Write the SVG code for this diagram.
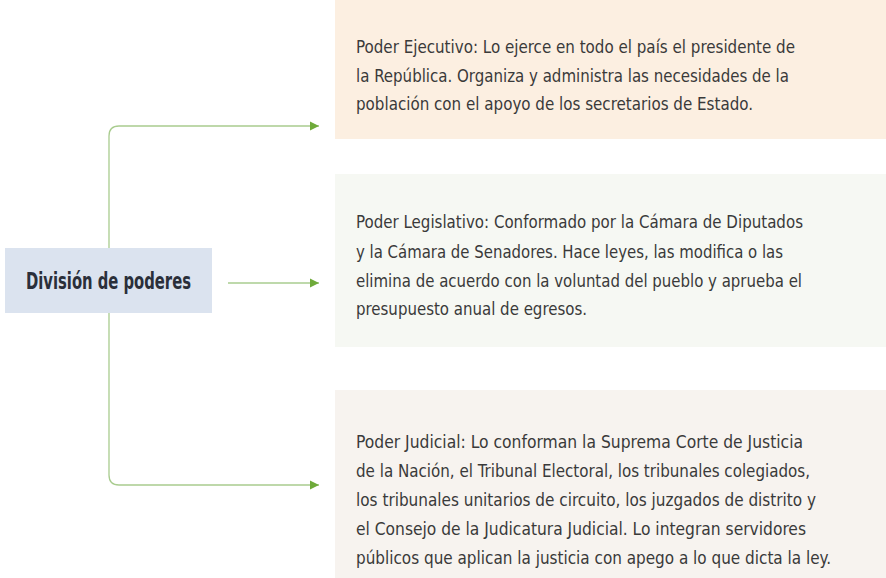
<svg xmlns="http://www.w3.org/2000/svg" width="886" height="578" viewBox="0 0 886 578">
<defs>
<style>
.t{font-family:"DejaVu Sans Condensed","DejaVu Sans","Liberation Sans",sans-serif;font-stretch:condensed;font-size:18.5px;fill:#3a3a3a}
.c{fill:none;stroke:#a9cc8f;stroke-width:1.3}
.n{font-family:"DejaVu Sans Condensed","DejaVu Sans","Liberation Sans",sans-serif;font-stretch:condensed;font-weight:bold;font-size:23px;fill:#2a2f3a}
</style>
<marker id="ah" viewBox="0 0 10 10" refX="10" refY="5" markerWidth="9" markerHeight="12" markerUnits="userSpaceOnUse" orient="auto">
<path d="M0,0 L10,5 L0,10 z" fill="#6faa3a"/>
</marker>
</defs>
<rect width="886" height="578" fill="#ffffff"/>
<g id="connectors">
<path class="c" d="M109,248 V136 Q109,126 119,126 H319" marker-end="url(#ah)"/>
<path class="c" d="M228,283 H319" marker-end="url(#ah)"/>
<path class="c" d="M109,313 V475 Q109,485 119,485 H319" marker-end="url(#ah)"/>
</g>
<g id="division">
<rect x="5" y="248" width="207" height="65" fill="#dbe3ef"/>
<text class="n" x="26" y="289" textLength="165" lengthAdjust="spacingAndGlyphs">División de poderes</text>
</g>
<g id="ejecutivo">
<rect x="335" y="0" width="551" height="139" fill="#fcefe1"/>
<text class="t" x="356" y="53" textLength="439" lengthAdjust="spacingAndGlyphs">Poder Ejecutivo: Lo ejerce en todo el país el presidente de</text>
<text class="t" x="356" y="82" textLength="433" lengthAdjust="spacingAndGlyphs">la República. Organiza y administra las necesidades de la</text>
<text class="t" x="356" y="110" textLength="397" lengthAdjust="spacingAndGlyphs">población con el apoyo de los secretarios de Estado.</text>
</g>
<g id="legislativo">
<rect x="335" y="174" width="551" height="173" fill="#f6f8f3"/>
<text class="t" x="356" y="228" textLength="447" lengthAdjust="spacingAndGlyphs">Poder Legislativo: Conformado por la Cámara de Diputados</text>
<text class="t" x="356" y="258" textLength="427" lengthAdjust="spacingAndGlyphs">y la Cámara de Senadores. Hace leyes, las modifica o las</text>
<text class="t" x="356" y="287" textLength="446" lengthAdjust="spacingAndGlyphs">elimina de acuerdo con la voluntad del pueblo y aprueba el</text>
<text class="t" x="356" y="315" textLength="231" lengthAdjust="spacingAndGlyphs">presupuesto anual de egresos.</text>
</g>
<g id="judicial">
<rect x="335" y="390" width="551" height="188" fill="#f7f3ef"/>
<text class="t" x="356" y="448" textLength="447" lengthAdjust="spacingAndGlyphs">Poder Judicial: Lo conforman la Suprema Corte de Justicia</text>
<text class="t" x="356" y="477" textLength="454" lengthAdjust="spacingAndGlyphs">de la Nación, el Tribunal Electoral, los tribunales colegiados,</text>
<text class="t" x="356" y="506" textLength="460" lengthAdjust="spacingAndGlyphs">los tribunales unitarios de circuito, los juzgados de distrito y</text>
<text class="t" x="356" y="535" textLength="450" lengthAdjust="spacingAndGlyphs">el Consejo de la Judicatura Judicial. Lo integran servidores</text>
<text class="t" x="356" y="564" textLength="475" lengthAdjust="spacingAndGlyphs">públicos que aplican la justicia con apego a lo que dicta la ley.</text>
</g>
</svg>
